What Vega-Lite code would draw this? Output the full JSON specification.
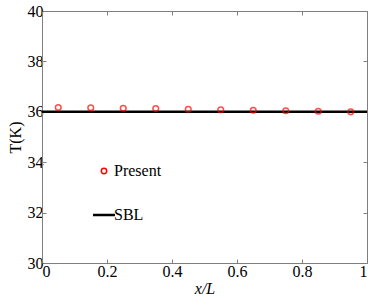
{
  "$schema": "https://vega.github.io/schema/vega-lite/v6.json",
  "width": 325,
  "height": 252,
  "autosize": {"type": "none"},
  "padding": {"left": 42, "top": 11, "right": 7, "bottom": 40},
  "background": "white",
  "config": {
    "font": "Liberation Serif",
    "view": {"stroke": null},
    "axis": {
      "domainColor": "#7f7f7f",
      "tickColor": "#7f7f7f",
      "tickSize": -4,
      "grid": false,
      "labelColor": "black",
      "labelFont": "Liberation Serif",
      "labelFontSize": 16,
      "titleFont": "Liberation Serif",
      "titleFontSize": 16,
      "titleFontWeight": "normal",
      "titleColor": "black"
    }
  },
  "datasets": {
    "present": [
      {"x": 0.05, "T": 36.17, "series": "Present"},
      {"x": 0.15, "T": 36.16, "series": "Present"},
      {"x": 0.25, "T": 36.14, "series": "Present"},
      {"x": 0.35, "T": 36.13, "series": "Present"},
      {"x": 0.45, "T": 36.10, "series": "Present"},
      {"x": 0.55, "T": 36.08, "series": "Present"},
      {"x": 0.65, "T": 36.06, "series": "Present"},
      {"x": 0.75, "T": 36.04, "series": "Present"},
      {"x": 0.85, "T": 36.02, "series": "Present"},
      {"x": 0.95, "T": 36.00, "series": "Present"}
    ],
    "sbl": [
      {"x": 0, "T": 36, "series": "SBL"},
      {"x": 1, "T": 36, "series": "SBL"}
    ]
  },
  "resolve": {"axis": {"x": "independent", "y": "independent"}},
  "layer": [
    {
      "data": {"name": "sbl"},
      "mark": {"type": "line", "strokeWidth": 2.5},
      "encoding": {
        "x": {"field": "x", "type": "quantitative", "scale": {"domain": [0, 1], "nice": false},
              "axis": {"orient": "bottom", "values": [0, 0.2, 0.4, 0.6, 0.8, 1], "format": "~g", "title": "x/L", "titleFontStyle": "italic", "labelPadding": 4, "titlePadding": 1}},
        "y": {"field": "T", "type": "quantitative", "scale": {"domain": [30, 40], "nice": false, "zero": false},
              "axis": {"orient": "left", "values": [30, 32, 34, 36, 38, 40], "title": "T(K)", "labelPadding": 3, "titlePadding": 4}},
        "color": {"field": "series", "type": "nominal",
                  "scale": {"domain": ["Present", "SBL"], "range": ["red", "black"]},
                  "legend": {
                    "title": null, "orient": "none", "legendX": 54, "legendY": 152,
                    "labelFont": "Liberation Serif", "labelFontSize": 16, "labelColor": "black",
                    "rowPadding": 28, "labelOffset": 2, "symbolStrokeWidth": 2,
                    "encode": {"symbols": {"update": {
                      "shape": {"signal": "datum.value === 'SBL' ? 'stroke' : 'circle'"},
                      "size": {"signal": "datum.value === 'SBL' ? 484 : 28"},
                      "fill": {"value": "transparent"},
                      "strokeWidth": {"signal": "datum.value === 'SBL' ? 2.5 : 1.5"}
                    }}}
                  }}
      }
    },
    {
      "data": {"name": "present"},
      "mark": {"type": "point", "filled": false, "size": 32, "strokeWidth": 1.5},
      "encoding": {
        "x": {"field": "x", "type": "quantitative",
              "axis": {"orient": "top", "values": [0, 0.2, 0.4, 0.6, 0.8, 1], "labels": false, "title": null, "domain": true}},
        "y": {"field": "T", "type": "quantitative",
              "axis": {"orient": "right", "values": [30, 32, 34, 36, 38, 40], "labels": false, "title": null, "domain": true}},
        "color": {"field": "series", "type": "nominal"}
      }
    }
  ]
}
